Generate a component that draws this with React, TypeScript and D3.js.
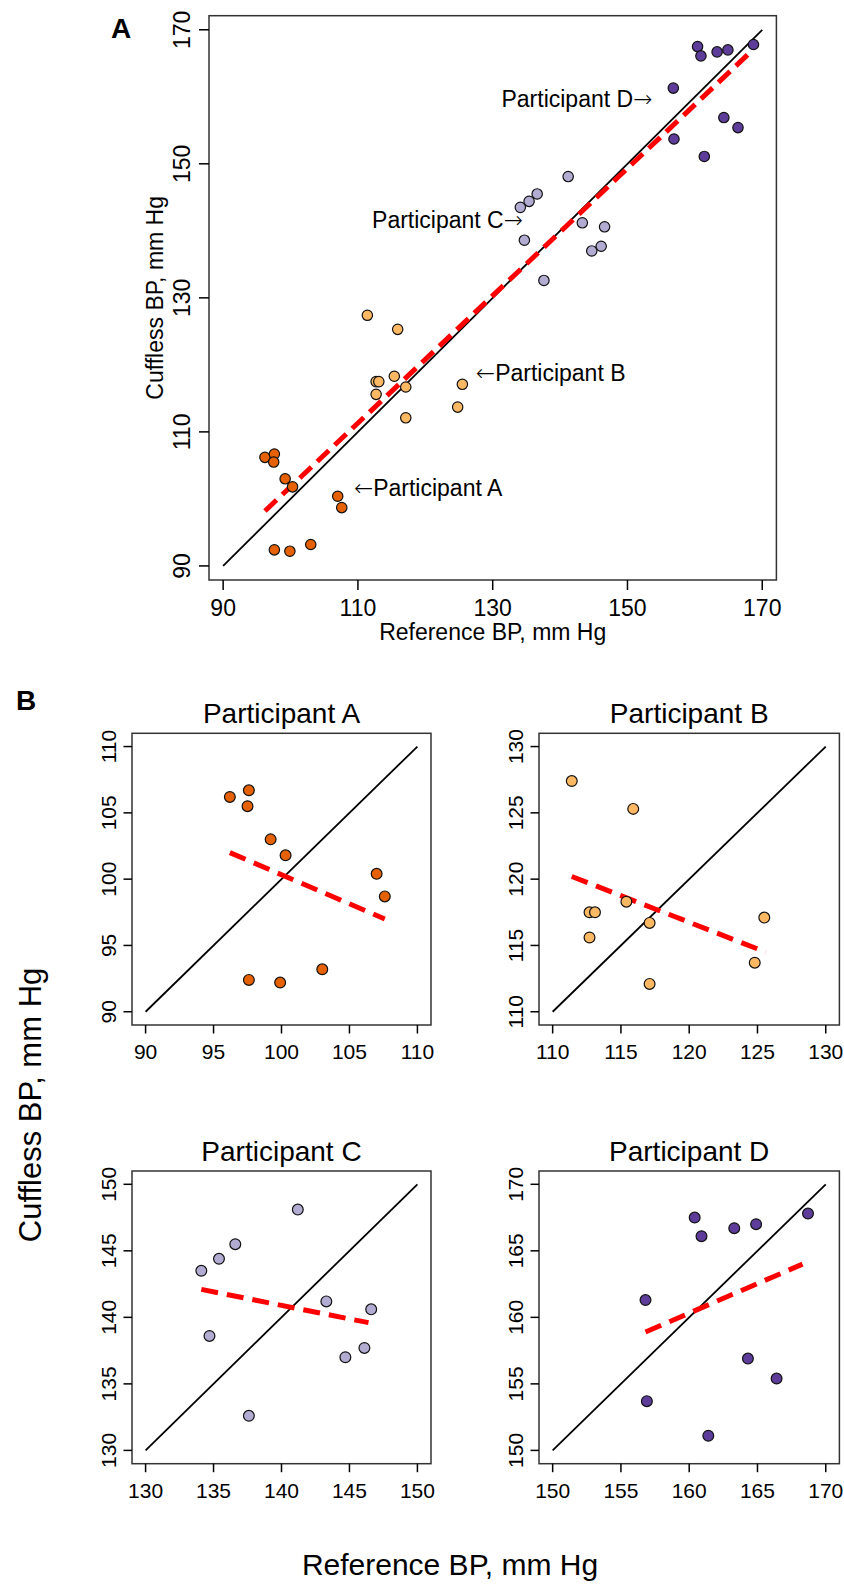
import React from "react";
import * as d3 from "d3";

// participant colours (PuOr)
const colors = ["#E66101", "#FDB863", "#B2ABD2", "#5E3C99"];
const names = ["Participant A", "Participant B", "Participant C", "Participant D"];

// reference / cuffless readings
const refA = [96.2, 97.6, 97.5, 99.2, 100.3, 107.0, 107.6, 97.6, 99.9, 103.0];
const cuffA = [106.2, 106.7, 105.5, 103.0, 101.8, 100.4, 98.7, 92.4, 92.2, 93.2];
const refB = [111.4, 115.9, 112.7, 113.1, 115.4, 117.1, 112.7, 125.5, 124.8, 117.1];
const cuffB = [127.4, 125.3, 117.5, 117.5, 118.3, 116.7, 115.6, 117.1, 113.7, 112.1];
const refC = [141.2, 136.6, 135.4, 134.1, 134.7, 143.3, 146.6, 146.1, 144.7, 137.6];
const cuffC = [148.1, 145.5, 144.4, 143.5, 138.6, 141.2, 140.6, 137.7, 137.0, 132.6];
const refD = [160.4, 160.9, 163.3, 164.9, 168.7, 156.8, 164.3, 166.4, 156.9, 161.4];
const cuffD = [167.5, 166.1, 166.7, 167.0, 167.8, 161.3, 156.9, 155.4, 153.7, 151.1];

// fitted (red dashed) lines: [start, end]
const fitRefAll = [96.2, 168.6];
const fitCuffAll = [98.2, 167.0];
const fitRef = [[96.2, 107.6], [111.4, 125.6], [134.1, 146.4], [156.8, 168.3]];
const fitCuff = [[102.0, 97.0], [120.2, 114.5], [142.1, 139.6], [158.9, 164.0]];

// axes
const mainTicks = [90, 110, 130, 150, 170];
const subTicks = [
  [90, 95, 100, 105, 110],
  [110, 115, 120, 125, 130],
  [130, 135, 140, 145, 150],
  [150, 155, 160, 165, 170],
];
const subDomains = [[89, 111], [109, 131], [129, 151], [149, 171]];

// annotation anchors in panel A (data coords)
const annotations = [
  { label: "Participant D", arrow: "right", x: 153.7, y: 159.7 },
  { label: "Participant C", arrow: "right", x: 134.5, y: 141.6 },
  { label: "Participant B", arrow: "left", x: 127.5, y: 118.8 },
  { label: "Participant A", arrow: "left", x: 109.4, y: 101.6 },
];

const refs = [refA, refB, refC, refD];
const cuffs = [cuffA, cuffB, cuffC, cuffD];
const font = "'Liberation Sans', Arial, Helvetica, sans-serif";
const arrowFont = "'DejaVu Sans', sans-serif";

function MainPanel() {
  const x = d3.scaleLinear().domain([87.9, 172.1]).range([209, 776.4]);
  const y = d3.scaleLinear().domain([87.9, 172.1]).range([580, 15.7]);
  const [x0, x1] = x.range();
  const [y0, y1] = y.range();
  return (
    <g>
      <text x={121} y={28} fontSize={28} fontWeight="bold" dominantBaseline="central" textAnchor="middle">A</text>
      <rect x={x0} y={y1} width={x1 - x0} height={y0 - y1} fill="none" stroke="#333" strokeWidth={1.5} />
      {mainTicks.map((t) => (
        <g key={"x" + t}>
          <line x1={x(t)} x2={x(t)} y1={y0} y2={y0 + 10} stroke="#000" strokeWidth={1.5} />
          <text x={x(t)} y={y0 + 28} fontSize={23} textAnchor="middle" dominantBaseline="central">{t}</text>
        </g>
      ))}
      {mainTicks.map((t) => (
        <g key={"y" + t}>
          <line x1={x0 - 10} x2={x0} y1={y(t)} y2={y(t)} stroke="#000" strokeWidth={1.5} />
          <text transform={`translate(${x0 - 27},${y(t)}) rotate(-90)`} fontSize={23} textAnchor="middle" dominantBaseline="central">{t}</text>
        </g>
      ))}
      <text x={(x0 + x1) / 2} y={y0 + 52} fontSize={23} textAnchor="middle" dominantBaseline="central">Reference BP, mm Hg</text>
      <text transform={`translate(155,${(y0 + y1) / 2}) rotate(-90)`} fontSize={23} textAnchor="middle" dominantBaseline="central">Cuffless BP, mm Hg</text>
      <line x1={x(90)} y1={y(90)} x2={x(170)} y2={y(170)} stroke="#000" strokeWidth={1.8} />
      <line x1={x(fitRefAll[0])} y1={y(fitCuffAll[0])} x2={x(fitRefAll[1])} y2={y(fitCuffAll[1])} stroke="#FF0000" strokeWidth={5} strokeDasharray="16 8" />
      {refs.map((r, i) =>
        r.map((v, j) => (
          <circle key={i + "-" + j} cx={x(v)} cy={y(cuffs[i][j])} r={5.2} fill={colors[i]} stroke="#111" strokeWidth={1.2} />
        ))
      )}
      {annotations.map((a) =>
        a.arrow === "right" ? (
          <text key={a.label} x={x(a.x)} y={y(a.y)} fontSize={23} textAnchor="end" dominantBaseline="central">
            {a.label}
            <tspan fontFamily={arrowFont} fontWeight="200">{"\u2192"}</tspan>
          </text>
        ) : (
          <text key={a.label} x={x(a.x)} y={y(a.y)} fontSize={23} textAnchor="start" dominantBaseline="central">
            <tspan fontFamily={arrowFont} fontWeight="200">{"\u2190"}</tspan>
            {a.label}
          </text>
        )
      )}
    </g>
  );
}

function SubPanel({ i }: { i: number }) {
  const col = i % 2;
  const row = Math.floor(i / 2);
  const xr = col === 0 ? [132, 431] : [539, 839.4];
  const yr = row === 0 ? [1025, 733.3] : [1463.7, 1171];
  const x = d3.scaleLinear().domain(subDomains[i]).range(xr);
  const y = d3.scaleLinear().domain(subDomains[i]).range(yr);
  const [x0, x1] = xr;
  const [y0, y1] = yr;
  const t = subTicks[i];
  return (
    <g>
      <text x={(x0 + x1) / 2} y={y1 - 10} fontSize={28} textAnchor="middle">{names[i]}</text>
      <rect x={x0} y={y1} width={x1 - x0} height={y0 - y1} fill="none" stroke="#333" strokeWidth={1.5} />
      {t.map((v) => (
        <g key={"x" + v}>
          <line x1={x(v)} x2={x(v)} y1={y0} y2={y0 + 8.5} stroke="#000" strokeWidth={1.5} />
          <text x={x(v)} y={y0 + 26.5} fontSize={21} textAnchor="middle" dominantBaseline="central">{v}</text>
        </g>
      ))}
      {t.map((v) => (
        <g key={"y" + v}>
          <line x1={x0 - 8.5} x2={x0} y1={y(v)} y2={y(v)} stroke="#000" strokeWidth={1.5} />
          <text transform={`translate(${x0 - 23.7},${y(v)}) rotate(-90)`} fontSize={21} textAnchor="middle" dominantBaseline="central">{v}</text>
        </g>
      ))}
      <line x1={x(t[0])} y1={y(t[0])} x2={x(t[4])} y2={y(t[4])} stroke="#000" strokeWidth={1.8} />
      <line x1={x(fitRef[i][0])} y1={y(fitCuff[i][0])} x2={x(fitRef[i][1])} y2={y(fitCuff[i][1])} stroke="#FF0000" strokeWidth={5} strokeDasharray="17 9" />
      {refs[i].map((v, j) => (
        <circle key={j} cx={x(v)} cy={y(cuffs[i][j])} r={5.4} fill={colors[i]} stroke="#111" strokeWidth={1.2} />
      ))}
    </g>
  );
}

export default function App() {
  return (
    <svg width={844} height={1587} style={{ position: "absolute", left: 0, top: 0, background: "#fff" }} fontFamily={font}>
      <rect width={844} height={1587} fill="#fff" />
      <MainPanel />
      <text x={26} y={700} fontSize={28} fontWeight="bold" textAnchor="middle" dominantBaseline="central">B</text>
      {[0, 1, 2, 3].map((i) => (
        <SubPanel key={i} i={i} />
      ))}
      <text transform="translate(30,1105) rotate(-90)" fontSize={31} textAnchor="middle" dominantBaseline="central">Cuffless BP, mm Hg</text>
      <text x={450} y={1564} fontSize={30} textAnchor="middle" dominantBaseline="central">Reference BP, mm Hg</text>
    </svg>
  );
}
